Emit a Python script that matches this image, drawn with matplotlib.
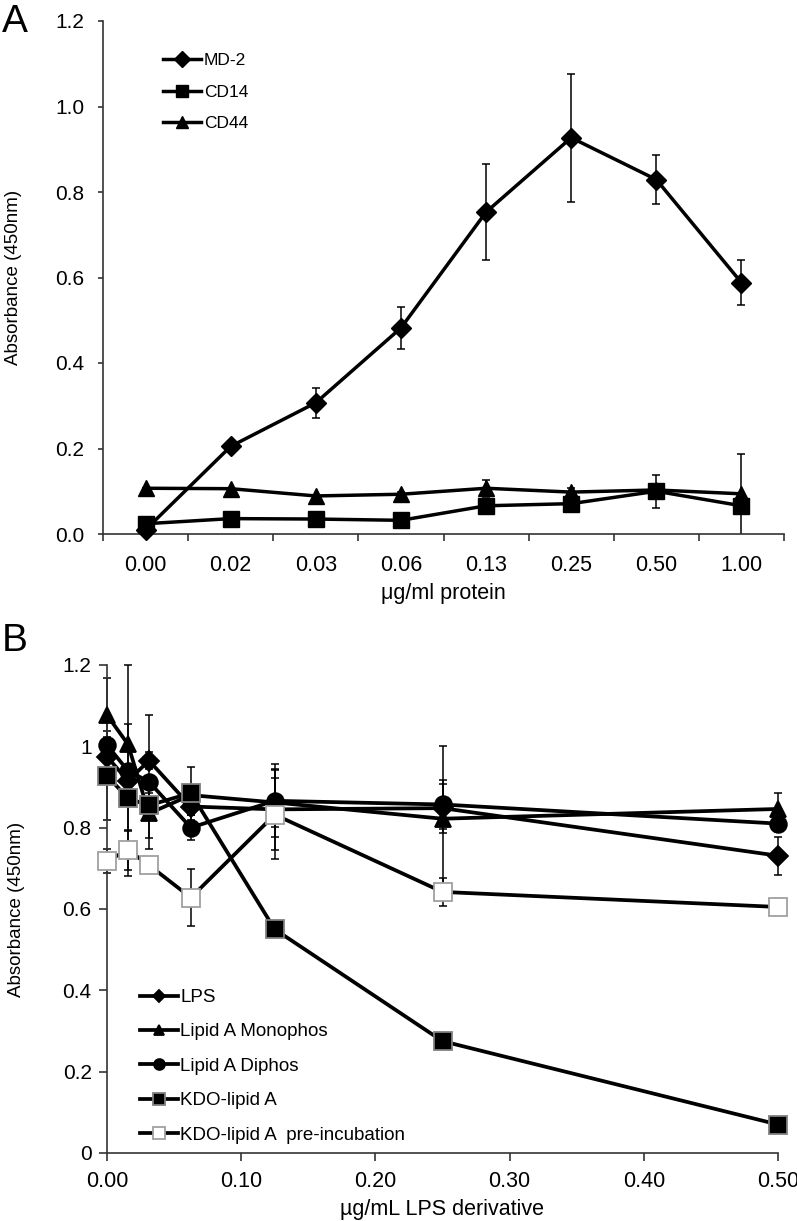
import numpy as np
import matplotlib
matplotlib.use("Agg")
import matplotlib.pyplot as plt
from matplotlib.ticker import FormatStrFormatter, FuncFormatter

plt.rcParams['font.family'] = ['Liberation Sans', 'DejaVu Sans']

# panel A: binding vs protein concentration
cats_a = ['0.00', '0.02', '0.03', '0.06', '0.13', '0.25', '0.50', '1.00']
md2 = [0.010, 0.205, 0.307, 0.482, 0.753, 0.927, 0.829, 0.588]
md2_err = [0.0, 0.0, 0.035, 0.050, 0.112, 0.150, 0.057, 0.053]
cd14 = [0.024, 0.036, 0.035, 0.032, 0.066, 0.071, 0.100, 0.066]
cd14_err = [0.0, 0.0, 0.0, 0.0, 0.010, 0.0, 0.039, 0.121]
cd44 = [0.107, 0.106, 0.089, 0.093, 0.107, 0.098, 0.103, 0.094]
cd44_err = [0.0, 0.0, 0.0, 0.005, 0.020, 0.010, 0.0, 0.0]

# panel B: competition with LPS derivatives
conc_b = [0.0, 0.015625, 0.03125, 0.0625, 0.125, 0.25, 0.5]
lps = [0.975, 0.915, 0.965, 0.852, 0.845, 0.848, 0.731]
lps_err = [0.03, 0.04, 0.02, 0.02, 0.10, 0.06, 0.047]
mono = [1.077, 1.005, 0.835, 0.880, 0.862, 0.822, 0.846]
mono_err = [0.09, 0.05, 0.06, 0.02, 0.06, 0.18, 0.04]
diphos = [1.003, 0.940, 0.913, 0.800, 0.866, 0.857, 0.810]
diphos_err = [0.02, 0.26, 0.165, 0.03, 0.09, 0.06, 0.02]
kdo = [0.928, 0.872, 0.855, 0.885, 0.550, 0.275, 0.070]
kdo_err = [0.11, 0.08, 0.03, 0.065, 0.01, 0.01, 0.01]
kdo_pre = [0.718, 0.745, 0.708, 0.628, 0.832, 0.642, 0.605]
kdo_pre_err = [0.03, 0.05, 0.02, 0.07, 0.11, 0.035, 0.01]

W, H = 797, 1221
fig = plt.figure(figsize=(W / 100, H / 100), dpi=100)

spine_c = '#333333'
lw = 2.5


def style_axes(ax):
    for s in ['top', 'right']:
        ax.spines[s].set_visible(False)
    for s in ['left', 'bottom']:
        ax.spines[s].set_color(spine_c)
        ax.spines[s].set_linewidth(1.2)


# ---------- A ----------
axA = fig.add_axes([103 / W, 1 - 534 / H, 681 / W, 513 / H])
style_axes(axA)
xa = np.arange(len(cats_a))

# error bars clipped at 0 like the original
for y, e in [(md2, md2_err), (cd14, cd14_err), (cd44, cd44_err)]:
    axA.errorbar(xa, y, yerr=e, fmt='none', ecolor='black', elinewidth=1.1,
                 capsize=3, capthick=1.1, zorder=2)

axA.plot(xa, md2, '-', marker='D', color='black', lw=lw, ms=10.5, label='MD-2', zorder=3, clip_on=False)
axA.plot(xa, cd14, '-', marker='s', color='black', lw=lw, ms=12, label='CD14', zorder=4, clip_on=False)
axA.plot(xa, cd44, '-', marker='^', color='black', lw=lw, ms=11, label='CD44', zorder=5, clip_on=False)

axA.set_xlim(-0.5, len(cats_a) - 0.5)
axA.set_ylim(0, 1.2)
axA.set_yticks(np.arange(0, 1.21, 0.2))
axA.yaxis.set_major_formatter(FormatStrFormatter('%.1f'))
axA.set_xticks(xa)
axA.set_xticklabels(cats_a)
axA.set_xticks(np.arange(-0.5, len(cats_a)), minor=True)
axA.tick_params(axis='x', which='major', length=0, pad=15, labelsize=15.5)
axA.tick_params(axis='x', which='minor', length=5, width=1.2, color=spine_c, direction='out')
axA.tick_params(axis='y', length=3.6, width=1.2, color=spine_c, direction='out', pad=10, labelsize=15)

axA.set_ylabel('Absorbance (450nm)', fontsize=13.5)
axA.yaxis.set_label_coords((22 - 103) / 681, 0.5)
axA.set_xlabel('\u03bcg/ml protein', fontsize=15.5)
axA.xaxis.set_label_coords(0.5, (534 - 583) / 513)

axA.legend(loc='upper left', bbox_to_anchor=((163 - 103) / 681, 1 - (53 - 21) / 513),
           frameon=False, fontsize=12.5, handlelength=2.2, handletextpad=0.15,
           labelspacing=0.95, borderpad=0, borderaxespad=0, numpoints=1,
           markerscale=0.75)

fig.text(15 / W, 1 - 22 / H, 'A', fontsize=28, ha='center', va='center')

# ---------- B ----------
axB = fig.add_axes([107 / W, 1 - 1153 / H, 671 / W, 488 / H])
style_axes(axB)

series_b = [
    (lps, lps_err, 'D', 10, 'black', 'black', 'LPS'),
    (mono, mono_err, '^', 12, 'black', 'black', 'Lipid A Monophos'),
    (diphos, diphos_err, 'o', 12, 'black', 'black', 'Lipid A Diphos'),
    (kdo, kdo_err, 's', 13, 'black', '#808080', 'KDO-lipid A'),
    (kdo_pre, kdo_pre_err, 's', 13, 'white', '#a0a0a0', 'KDO-lipid A  pre-incubation'),
]
for y, e, *_ in series_b:
    axB.errorbar(conc_b, y, yerr=e, fmt='none', ecolor='black', elinewidth=1.1,
                 capsize=3, capthick=1.1, zorder=2, clip_on=False)
for i, (y, e, m, ms, fc, ec, lab) in enumerate(series_b):
    axB.plot(conc_b, y, '-', color='black', lw=lw + 0.2, marker=m, ms=ms,
             markerfacecolor=fc, markeredgecolor=ec, markeredgewidth=1.3,
             label=lab, zorder=3 + i, clip_on=False)

axB.set_xlim(0, 0.5)
axB.set_ylim(0, 1.2)
axB.set_xticks(np.arange(0, 0.51, 0.1))
axB.xaxis.set_major_formatter(FormatStrFormatter('%.2f'))
axB.set_yticks(np.arange(0, 1.21, 0.2))
axB.yaxis.set_major_formatter(FuncFormatter(lambda v, p: f'{v:g}'))
axB.tick_params(axis='x', length=6, width=1.2, color=spine_c, direction='out', pad=7, labelsize=15.5)
axB.tick_params(axis='y', length=6, width=1.2, color=spine_c, direction='out', pad=5, labelsize=15)

axB.set_ylabel('Absorbance (450nm)', fontsize=13.5)
axB.yaxis.set_label_coords((25 - 107) / 671, 0.5)
axB.set_xlabel('\u00b5g/mL LPS derivative', fontsize=15.5)
axB.xaxis.set_label_coords(0.5, (1153 - 1199) / 488)

axB.legend(loc='upper left', bbox_to_anchor=((140 - 107) / 671, (1153 - 989) / 488),
           frameon=False, fontsize=13.5, handlelength=2.0, handletextpad=0.15,
           labelspacing=0.92, borderpad=0, borderaxespad=0, numpoints=1,
           markerscale=0.65)

fig.text(15 / W, 1 - 641 / H, 'B', fontsize=28, ha='center', va='center')

fig.savefig('out.png', dpi=100)
